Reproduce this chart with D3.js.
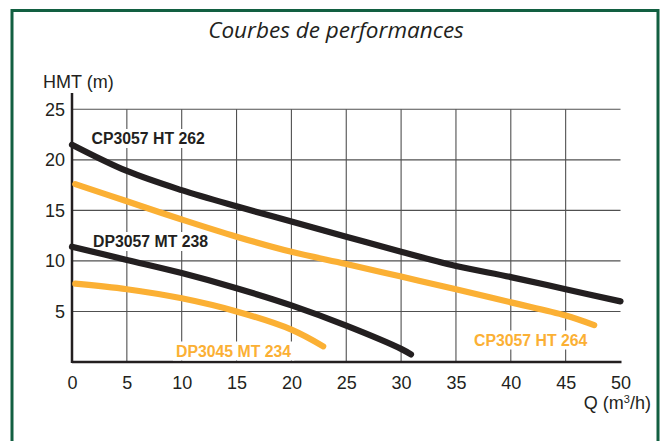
<!DOCTYPE html>
<html>
<head>
<meta charset="utf-8">
<script src="https://cdn.jsdelivr.net/npm/d3@7"></script>
<style>
  body { margin: 0; background: #fff; }
  svg { display: block; }
</style>
</head>
<body>
<div id="chart"></div>
<script>
// Pump curves, [Q (m3/h), HMT (m)]
var cp3057ht262 = [[0, 21.5], [5, 18.9], [10, 17.0], [15, 15.4], [20, 13.9], [25, 12.4], [30, 10.9], [35, 9.5], [40, 8.4], [45, 7.2], [50, 6.0]];
var cp3057ht264 = [[0.3, 17.6], [5, 15.9], [10, 14.1], [15, 12.4], [20, 10.9], [25, 9.7], [30, 8.45], [35, 7.2], [40, 5.9], [45, 4.6], [47.6, 3.65]];
var dp3057mt238 = [[0, 11.4], [5, 10.1], [10, 8.8], [15, 7.3], [20, 5.6], [25, 3.6], [30, 1.3], [30.9, 0.75]];
var dp3045mt234 = [[0.3, 7.75], [5, 7.2], [10, 6.3], [15, 5.0], [20, 3.2], [22.9, 1.55]];

var curveNames = ['CP3057 HT 262', 'CP3057 HT 264', 'DP3057 MT 238', 'DP3045 MT 234'];
var xTicks = [0, 5, 10, 15, 20, 25, 30, 35, 40, 45, 50];
var yTicks = [5, 10, 15, 20, 25];

var TITLE = 'Courbes de performances';
var Y_TITLE = 'HMT (m)';

var BLACK = '#231f20';
var ORANGE = '#fbb034';
var GREEN = '#125f41';

var width = 663, height = 441;

var svg = d3.select('#chart').append('svg')
    .attr('width', width)
    .attr('height', height);

svg.append('rect').attr('width', width).attr('height', height).attr('fill', '#fff');

// green frame, open at the bottom
svg.append('path')
    .attr('d', 'M12,' + (height + 5) + 'V10.5H658V' + (height + 5))
    .attr('fill', 'none')
    .attr('stroke', GREEN)
    .attr('stroke-width', 3);

svg.append('text')
    .attr('x', 336).attr('y', 37.5)
    .attr('text-anchor', 'middle')
    .style('font-family', '"Open Sans", sans-serif')
    .style('font-style', 'italic')
    .style('font-weight', 500)
    .style('font-size', '22.5px')
    .attr('fill', BLACK)
    .text(TITLE);

var x = d3.scaleLinear().domain([0, 50]).range([72, 620.5]);
var y = d3.scaleLinear().domain([0, 25]).range([362, 109.3]);

// grid
var grid = svg.append('g').attr('stroke', '#505050').attr('stroke-width', 1.1);
grid.selectAll('.vg')
    .data(xTicks.filter(function (d) { return d > 0 && d < 50; }))
    .enter().append('line')
    .attr('x1', function (d) { return x(d); }).attr('x2', function (d) { return x(d); })
    .attr('y1', y(25)).attr('y2', y(0));
grid.selectAll('.hg')
    .data(yTicks)
    .enter().append('line')
    .attr('x1', x(0)).attr('x2', x(50))
    .attr('y1', function (d) { return y(d); }).attr('y2', function (d) { return y(d); });

// axes drawn with d3, then restyled
var xAxis = svg.append('g')
    .attr('transform', 'translate(0,' + y(0) + ')')
    .call(d3.axisBottom(x).tickValues(xTicks).tickSize(0).tickPadding(14));
var yAxis = svg.append('g')
    .attr('transform', 'translate(' + x(0) + ',0)')
    .call(d3.axisLeft(y).tickValues(yTicks).tickSize(0).tickPadding(7));

[xAxis, yAxis].forEach(function (a) {
    a.select('.domain').remove();
    a.selectAll('text')
        .style('font-family', '"Liberation Sans", Arial, sans-serif')
        .style('font-size', '18px')
        .attr('fill', BLACK);
});

svg.append('line')
    .attr('x1', x(0)).attr('x2', x(50) + 1)
    .attr('y1', y(0)).attr('y2', y(0))
    .attr('stroke', BLACK).attr('stroke-width', 2.5);
svg.append('line')
    .attr('x1', x(0)).attr('x2', x(0))
    .attr('y1', y(0) + 1).attr('y2', 93)
    .attr('stroke', BLACK).attr('stroke-width', 2.5);

svg.append('text')
    .attr('x', 43).attr('y', 88)
    .style('font-family', '"Liberation Sans", Arial, sans-serif')
    .style('font-size', '18px')
    .attr('fill', BLACK)
    .text(Y_TITLE);

var xTitle = svg.append('text')
    .attr('x', 651).attr('y', 409)
    .attr('text-anchor', 'end')
    .style('font-family', '"Liberation Sans", Arial, sans-serif')
    .style('font-size', '18px')
    .attr('fill', BLACK);
xTitle.append('tspan').text('Q (m');
xTitle.append('tspan').attr('dy', -6).style('font-size', '11px').text('3');
xTitle.append('tspan').attr('dy', 6).text('/h)');

// curves
var line = d3.line()
    .x(function (d) { return x(d[0]); })
    .y(function (d) { return y(d[1]); })
    .curve(d3.curveCatmullRom.alpha(0.5));

var curves = [
    { name: curveNames[0], data: cp3057ht262, color: BLACK, lx: 91.5, ly: 144 },
    { name: curveNames[1], data: cp3057ht264, color: ORANGE, lx: 474, ly: 345.5 },
    { name: curveNames[2], data: dp3057mt238, color: BLACK, lx: 93, ly: 247 },
    { name: curveNames[3], data: dp3045mt234, color: ORANGE, lx: 176, ly: 356.5 }
];

// labels sit on white boxes that hide the grid
curves.forEach(function (c) {
    var g = svg.append('g');
    var t = g.append('text')
        .attr('x', c.lx).attr('y', c.ly)
        .style('font-family', '"Liberation Sans", Arial, sans-serif')
        .style('font-size', '15.8px')
        .style('font-weight', 'bold')
        .attr('fill', c.color)
        .text(c.name);
    var bb = t.node().getBBox();
    g.insert('rect', 'text')
        .attr('x', bb.x - 3).attr('y', bb.y - 1)
        .attr('width', bb.width + 6).attr('height', bb.height + 2)
        .attr('fill', '#fff');
});

svg.selectAll('.curve')
    .data(curves)
    .enter().append('path')
    .attr('class', 'curve')
    .attr('d', function (c) { return line(c.data); })
    .attr('fill', 'none')
    .attr('stroke', function (c) { return c.color; })
    .attr('stroke-width', 6.2)
    .attr('stroke-linecap', 'round');
</script>
</body>
</html>
